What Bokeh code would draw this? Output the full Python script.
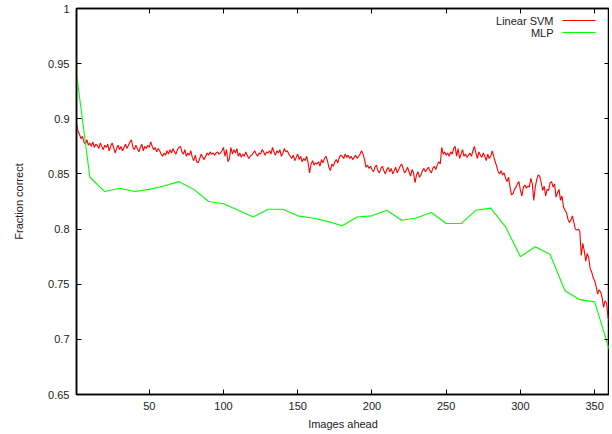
from bokeh.plotting import figure
from bokeh.models import Range1d, LinearAxis, Label, Arrow, CustomJSTickFormatter
from bokeh.embed import file_html
from bokeh.resources import INLINE

# ---------------- data ----------------
svm_x = list(range(1, 361))
svm_y = [
    0.896, 0.889, 0.886, 0.882, 0.884, 0.879, 0.877, 0.881, 0.876, 0.878,
    0.875, 0.879, 0.874, 0.877, 0.876, 0.873, 0.878, 0.875, 0.872, 0.876,
    0.874, 0.877, 0.871, 0.875, 0.878, 0.874, 0.869, 0.873, 0.876, 0.872,
    0.875, 0.871, 0.874, 0.877, 0.873, 0.876, 0.879, 0.881, 0.874, 0.872,
    0.876, 0.873, 0.870, 0.874, 0.877, 0.871, 0.875, 0.873, 0.876, 0.874,
    0.879, 0.875, 0.872, 0.874, 0.870, 0.873, 0.871, 0.868, 0.866, 0.869,
    0.867, 0.871, 0.868, 0.872, 0.869, 0.873, 0.870, 0.868, 0.872, 0.874,
    0.875, 0.870, 0.868, 0.872, 0.866, 0.869, 0.867, 0.871, 0.865, 0.862,
    0.867, 0.861, 0.860, 0.864, 0.868, 0.865, 0.863, 0.866, 0.869, 0.867,
    0.870, 0.868, 0.869, 0.867, 0.869, 0.870, 0.868, 0.869, 0.871, 0.874,
    0.866, 0.872, 0.861, 0.864, 0.874, 0.868, 0.872, 0.869, 0.873, 0.866,
    0.869, 0.865, 0.868, 0.866, 0.870, 0.867, 0.864, 0.866, 0.867, 0.869,
    0.871, 0.868, 0.866, 0.869, 0.868, 0.872, 0.870, 0.867, 0.870, 0.869,
    0.871, 0.868, 0.874, 0.870, 0.867, 0.871, 0.869, 0.872, 0.866, 0.869,
    0.873, 0.870, 0.871, 0.868, 0.866, 0.864, 0.867, 0.862, 0.865, 0.868,
    0.863, 0.866, 0.861, 0.864, 0.862, 0.866, 0.860, 0.851, 0.859, 0.862,
    0.858, 0.860, 0.859, 0.861, 0.857, 0.863, 0.860, 0.864, 0.866, 0.862,
    0.856, 0.853, 0.859, 0.857, 0.861, 0.863, 0.860, 0.865, 0.867, 0.866,
    0.864, 0.868, 0.865, 0.867, 0.864, 0.866, 0.863, 0.865, 0.867, 0.864,
    0.866, 0.868, 0.871, 0.868, 0.863, 0.856, 0.858, 0.855, 0.857, 0.854,
    0.852, 0.856, 0.858, 0.853, 0.851, 0.855, 0.857, 0.853, 0.850, 0.854,
    0.856, 0.852, 0.855, 0.850, 0.853, 0.856, 0.851, 0.854, 0.857, 0.859,
    0.855, 0.851, 0.853, 0.856, 0.852, 0.848, 0.854, 0.851, 0.842, 0.849,
    0.852, 0.847, 0.849, 0.853, 0.855, 0.852, 0.854, 0.856, 0.853, 0.851,
    0.855, 0.857, 0.854, 0.858, 0.861, 0.859, 0.874, 0.868, 0.870, 0.867,
    0.869, 0.866, 0.870, 0.868, 0.873, 0.875, 0.866, 0.873, 0.864, 0.868,
    0.872, 0.866, 0.868, 0.865, 0.867, 0.869, 0.866, 0.871, 0.875, 0.869,
    0.864, 0.870, 0.867, 0.865, 0.869, 0.866, 0.862, 0.868, 0.864, 0.866,
    0.871, 0.866, 0.861, 0.857, 0.852, 0.850, 0.853, 0.849, 0.851, 0.846,
    0.843, 0.847, 0.838, 0.831, 0.832, 0.836, 0.838, 0.841, 0.843, 0.835,
    0.830, 0.838, 0.840, 0.837, 0.839, 0.838, 0.846, 0.841, 0.826, 0.838,
    0.845, 0.849, 0.848, 0.842, 0.835, 0.839, 0.830, 0.836, 0.835, 0.842,
    0.843, 0.838, 0.841, 0.829, 0.833, 0.836, 0.826, 0.830, 0.820, 0.817,
    0.815, 0.809, 0.806, 0.808, 0.812, 0.806, 0.800, 0.799, 0.800, 0.798,
    0.776, 0.787, 0.780, 0.771, 0.778, 0.774, 0.764, 0.761, 0.756, 0.753,
    0.748, 0.741, 0.745, 0.743, 0.738, 0.729, 0.735, 0.733, 0.720, 0.716,
]

mlp_x = [1, 10, 20, 30, 40, 50, 60, 70, 80, 90, 100, 110, 120, 130, 140, 150,
         160, 170, 180, 190, 200, 210, 220, 230, 240, 250, 260, 270, 280, 290,
         300, 310, 320, 330, 340, 350, 360]
mlp_y = [0.941, 0.847, 0.834, 0.837, 0.834, 0.836, 0.839, 0.843, 0.836, 0.825,
         0.823, 0.817, 0.811, 0.818, 0.818, 0.812, 0.810, 0.807, 0.803, 0.811,
         0.812, 0.817, 0.808, 0.810, 0.815, 0.805, 0.805, 0.817, 0.819, 0.802,
         0.775, 0.784, 0.777, 0.744, 0.736, 0.734, 0.690]

x_ticks = [50, 100, 150, 200, 250, 300, 350]
y_ticks = [0.65, 0.7, 0.75, 0.8, 0.85, 0.9, 0.95, 1.0]
y_tick_labels = ["0.65", "0.7", "0.75", "0.8", "0.85", "0.9", "0.95", "1"]

series_names = ["Linear SVM", "MLP"]
series_colors = ["#ff0000", "#00ff00"]

FONT = "Liberation Sans"

p = figure(frame_width=533, frame_height=386,
           x_range=Range1d(1, 360), y_range=Range1d(0.65, 1.0),
           output_backend="svg", toolbar_location=None,
           min_border_left=76, min_border_top=8, min_border_right=0,
           min_border_bottom=4)
p.background_fill_color = "white"
p.border_fill_color = "white"
p.outline_line_color = "black"
p.outline_line_width = 1.5
p.xgrid.visible = False
p.ygrid.visible = False

p.line(svm_x, svm_y, line_color=series_colors[0], line_width=1.1)
p.line(mlp_x, mlp_y, line_color=series_colors[1], line_width=1.1)

def style(ax, labels=True):
    ax.axis_line_color = "black"
    ax.axis_line_width = 1.5
    ax.major_tick_in = 5
    ax.major_tick_out = 0
    ax.major_tick_line_color = "black"
    ax.minor_tick_line_color = None
    ax.major_label_text_font = FONT
    ax.major_label_text_font_size = "11px"
    ax.major_label_text_color = "#222222"
    ax.axis_label_text_font = FONT
    ax.axis_label_text_font_size = "11px"
    ax.axis_label_text_font_style = "normal"
    ax.axis_label_text_color = "#222222"
    if not labels:
        ax.formatter = CustomJSTickFormatter(code="return ''")
        ax.major_label_standoff = 0

xa = p.xaxis[0]
xa.ticker = x_ticks
xa.axis_label = "Images ahead"
style(xa)
xa.major_label_standoff = 7
xa.axis_label_standoff = 5

ya = p.yaxis[0]
ya.ticker = y_ticks
ya.major_label_overrides = {t: l for t, l in zip(y_ticks, y_tick_labels)}
ya.axis_label = "Fraction correct"
style(ya)
ya.major_label_standoff = 7
ya.axis_label_standoff = 20

top = LinearAxis(ticker=x_ticks)
style(top, labels=False)
p.add_layout(top, "above")
right = LinearAxis(ticker=y_ticks)
style(right, labels=False)
p.add_layout(right, "right")

# gnuplot-style key: text right-aligned, sample line to the right
# (screen units are relative to the plot frame, y measured from its bottom)
for i, (name, col) in enumerate(zip(series_names, series_colors)):
    yy = 374 - 12 * i
    p.add_layout(Label(x=477, y=yy, x_units="screen", y_units="screen",
                       text=name, text_align="right", text_baseline="middle",
                       text_font=FONT, text_font_size="11px",
                       text_color="#222222"))
    p.add_layout(Arrow(end=None, x_start=486, y_start=yy, x_end=519, y_end=yy,
                       start_units="screen", end_units="screen",
                       line_color=col, line_width=1))

open("out.html", "w").write(file_html(p, INLINE))
